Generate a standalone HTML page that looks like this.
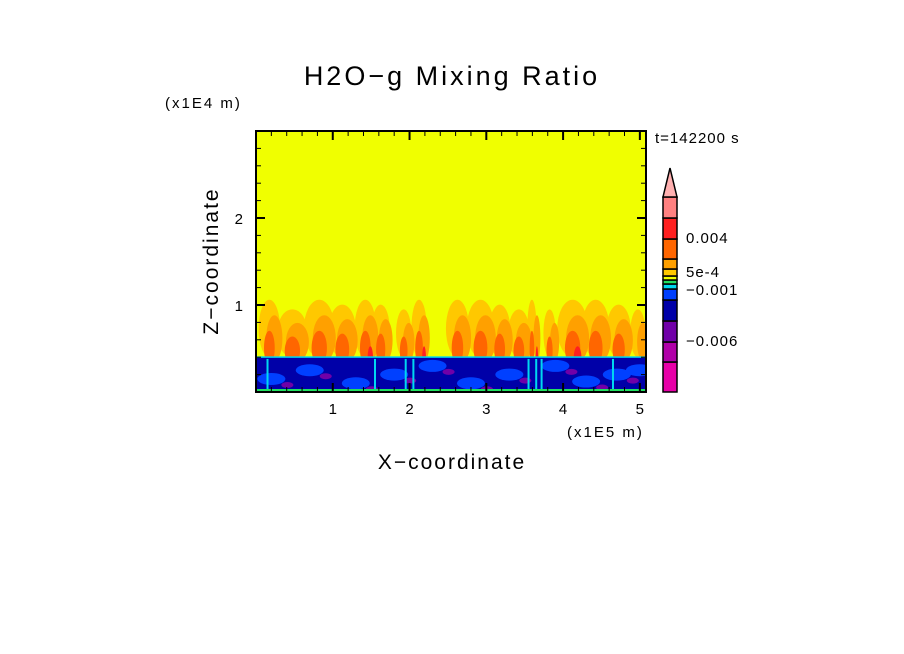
<!DOCTYPE html>
<html><head><meta charset="utf-8"><style>
html,body{margin:0;padding:0;background:#fff;}
svg{display:block;font-family:"Liberation Sans",sans-serif;}
</style></head><body>
<svg id="chart" width="904" height="654" viewBox="0 0 904 654">
<text x="452" y="85" font-size="27" letter-spacing="3" text-anchor="middle">H2O−g Mixing Ratio</text>
<text x="165" y="108" font-size="15" letter-spacing="2">(x1E4 m)</text>
<text x="655" y="143" font-size="15" letter-spacing="1">t=142200 s</text>
<text x="567" y="437" font-size="15" letter-spacing="2">(x1E5 m)</text>
<text x="452" y="469" font-size="21" letter-spacing="2" text-anchor="middle">X−coordinate</text>
<text x="0" y="0" font-size="21" letter-spacing="2" text-anchor="middle" transform="translate(218,261) rotate(-90)">Z−coordinate</text>
<defs><clipPath id="pc"><rect x="256" y="131" width="390" height="261"/></clipPath></defs>
<g id="field" clip-path="url(#pc)"></g>
<g id="axes"></g>
<g id="cbar"></g>
</svg>
<script>
// axis data
const xTicks = [1,2,3,4,5];
const yTicks = [1,2];
const xMax = 5.08, zMax = 3.0;
// colorbar levels (bottom to top)
const cbColors = ["#e800a8","#b000a8","#7000a8","#0000a8","#0040ff","#00d8f0","#20e060","#f0ff00","#ffc800","#ffa000","#ff6600","#ff2020","#ff8080"];
const cbHeights = [30,20,21,21,11,5,4,4,7,10,20,21,21];
const cbLabels = ["−0.006","−0.001","5e-4","0.004"];
const cbLabelY = [341,290,272,238];
// plumes: x center (1e5 m), half-width, top (1e4 m), intensity 0-3
const plumeX = [0.2,0.5,0.85,1.15,1.45,1.65,1.95,2.15,2.65,2.95,3.2,3.45,3.62,3.85,4.15,4.45,4.75,5.0];
const plumeW = [0.14,0.2,0.2,0.18,0.14,0.12,0.1,0.1,0.15,0.18,0.14,0.14,0.06,0.08,0.2,0.18,0.16,0.1];
const plumeTop = [1.0,0.9,1.0,0.95,1.0,0.95,0.9,1.0,1.0,1.0,0.95,0.9,1.0,0.9,1.0,1.0,0.95,0.9];
const plumeI = [2,2,2,2,3,2,2,3,2,2,2,2,3,2,3,2,2,1];
// boundary layer features (lighter blue patches, purple spots)
const blobX = [0.2,0.7,1.3,1.8,2.3,2.8,3.3,3.9,4.3,4.7,5.0];
const blobZ = [0.15,0.25,0.1,0.2,0.3,0.1,0.2,0.3,0.12,0.2,0.25];
const streakX = [0.15,1.55,1.95,2.05,3.55,3.65,3.72,4.65];

const sx = v => 256 + v/xMax*390;
const sz = v => 392 - v/zMax*261;
const NS = "http://www.w3.org/2000/svg";
function mk(tag, at, parent){const e=document.createElementNS(NS,tag);for(const k in at)e.setAttribute(k,at[k]);parent.appendChild(e);return e;}
const F = document.getElementById('field');
let r = mk('rect',{x:256,y:131,width:390,height:261,fill:'#f0ff00'},F);


const pc = ["#ffc800","#ffa000","#ff6600","#ff2020"];
for(let l=0;l<=3;l++){
  plumeX.forEach((px,i)=>{
    if(l>plumeI[i]) return;
    const base = sz(0.4), top = sz(plumeTop[i]);
    const h = (base-top)*(1-l*0.2)*1.1;
    const rx = (sx(plumeW[i])-256)*(1-l*0.25);
    const e = mk('ellipse',{cx:sx(px)+(l%2?3:-2),cy:base-h/2+l*4,rx:rx,ry:h/2,fill:pc[l]},F);
    
    
  });
}
let b = mk('rect',{x:256,y:sz(0.4),width:390,height:sz(0)-sz(0.4),fill:'#0000a8'},F);


blobX.forEach((bx,i)=>{
  const e = mk('ellipse',{cx:sx(bx),cy:sz(blobZ[i]),rx:14,ry:6,fill:'#0040ff'},F);
  
  
  const p = mk('ellipse',{cx:sx(bx)+16,cy:sz(blobZ[i])+6,rx:6,ry:3,fill:'#7000a8'},F);
  
  
});
streakX.forEach((s,i)=>{
  const e = mk('rect',{x:sx(s)-1,y:sz(0.38),width:2,height:sz(0)-sz(0.38),fill:'#00d8f0'},F);
  
  
});
let g = mk('rect',{x:256,y:sz(0.41),width:390,height:1.5,fill:'#00d8f0'},F);


let gb = mk('rect',{x:256,y:389,width:390,height:2,fill:'#20e060'},F);



// axes
const A = document.getElementById('axes');
let fr = mk('rect',{x:256,y:131,width:390,height:261,fill:'none',stroke:'#000','stroke-width':2},A);


for(let v=0.2; v<xMax; v+=0.2){
  const major = Math.abs(v-Math.round(v))<1e-6;
  const L = major?9:5;
  mk('line',{x1:sx(v),x2:sx(v),y1:392,y2:392-L,stroke:'#000','stroke-width':major?2:1},A);
  mk('line',{x1:sx(v),x2:sx(v),y1:131,y2:131+L,stroke:'#000','stroke-width':major?2:1},A);
}
for(let v=0.2; v<zMax; v+=0.2){
  const major = Math.abs(v-Math.round(v))<1e-6;
  const L = major?9:5;
  mk('line',{x1:256,x2:256+L,y1:sz(v),y2:sz(v),stroke:'#000','stroke-width':major?2:1},A);
  mk('line',{x1:646,x2:646-L,y1:sz(v),y2:sz(v),stroke:'#000','stroke-width':major?2:1},A);
}
xTicks.forEach(v=>{
  const t = mk('text',{x:sx(v),y:414,'font-size':15,'text-anchor':'middle'},A);
  t.textContent = v;
  
  
});
yTicks.forEach(v=>{
  const t = mk('text',{x:243,y:sz(v)+6,'font-size':15,'text-anchor':'end'},A);
  t.textContent = v;
  
  
});
// colorbar
const C = document.getElementById('cbar');
let y = 392;
cbColors.forEach((c,i)=>{
  y -= cbHeights[i];
  const s = mk('rect',{x:663,y:y,width:14,height:cbHeights[i],fill:c,stroke:'#000','stroke-width':1.5},C);
  
  
});
let tri = mk('polygon',{points:`663,${y} 677,${y} 670,${y-29}`,fill:'#ffb0b0',stroke:'#000','stroke-width':1.5},C);


cbLabels.forEach((l,i)=>{
  const t = mk('text',{x:686,y:cbLabelY[i]+5,'font-size':15,'letter-spacing':1},C);
  t.textContent = l;
  
  
});
</script>
</body></html>
